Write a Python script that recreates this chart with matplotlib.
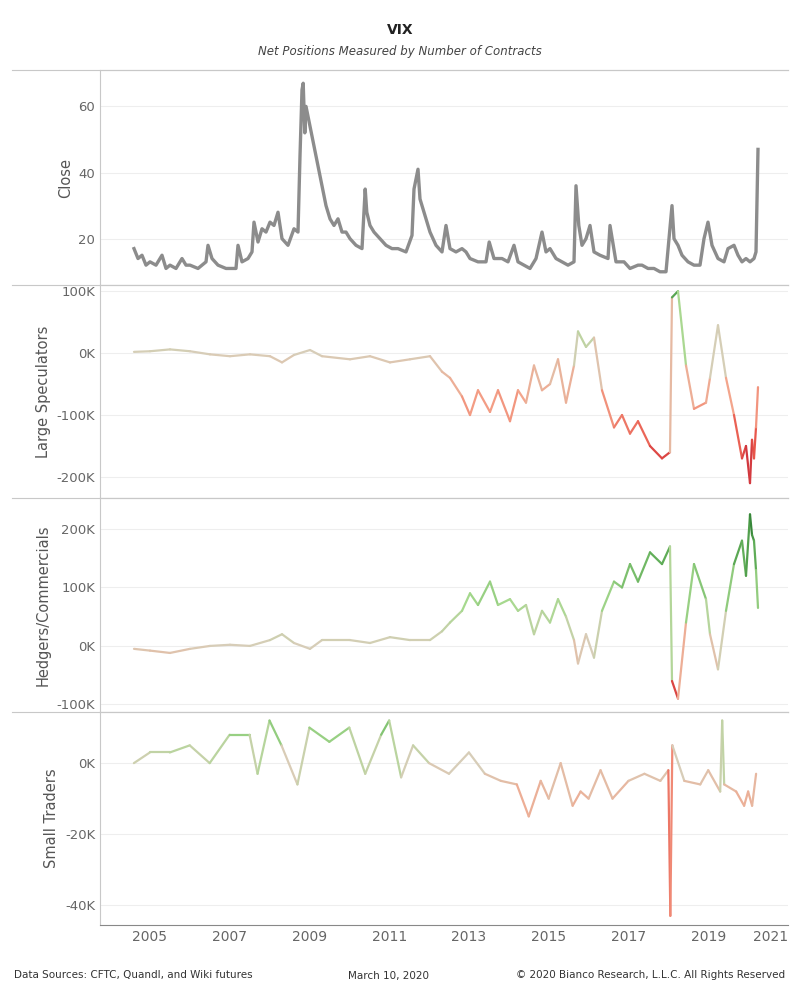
import numpy as np
import matplotlib
matplotlib.use("Agg")
import matplotlib.pyplot as plt
from matplotlib.collections import LineCollection
from matplotlib.colors import LinearSegmentedColormap, TwoSlopeNorm
from matplotlib.ticker import FuncFormatter

close_t = [2004.6, 2004.7, 2004.8, 2004.9, 2005.0, 2005.15, 2005.3, 2005.4, 2005.5, 2005.65, 2005.8, 2005.9, 2006.0, 2006.2,
           2006.4, 2006.45, 2006.55, 2006.7, 2006.9, 2007.0, 2007.15, 2007.2, 2007.3, 2007.45, 2007.55, 2007.6, 2007.7,
           2007.8, 2007.9, 2008.0, 2008.1, 2008.2, 2008.3, 2008.45, 2008.6, 2008.7, 2008.75, 2008.8, 2008.83, 2008.87,
           2008.9, 2009.4, 2009.5, 2009.6, 2009.7, 2009.8, 2009.9, 2010.0, 2010.15, 2010.3, 2010.38, 2010.42, 2010.5,
           2010.6, 2010.75, 2010.9, 2011.05, 2011.2, 2011.4, 2011.55, 2011.6, 2011.7, 2011.75, 2011.85, 2012.0, 2012.15,
           2012.3, 2012.4, 2012.5, 2012.65, 2012.8, 2012.9, 2013.0, 2013.2, 2013.4, 2013.48, 2013.6, 2013.8, 2013.95,
           2014.1, 2014.2, 2014.35, 2014.5, 2014.65, 2014.8, 2014.9, 2015.0, 2015.15, 2015.3, 2015.45, 2015.6, 2015.65,
           2015.72, 2015.8, 2015.9, 2016.0, 2016.1, 2016.25, 2016.45, 2016.5, 2016.65, 2016.85, 2017.0, 2017.2, 2017.3,
           2017.45, 2017.6, 2017.75, 2017.9, 2018.05, 2018.1, 2018.2, 2018.3, 2018.45, 2018.6, 2018.75, 2018.85, 2018.95,
           2019.05, 2019.2, 2019.35, 2019.45, 2019.6, 2019.7, 2019.8, 2019.9, 2020.0, 2020.1, 2020.15, 2020.2]
close_v = [17, 14, 15, 12, 13, 12, 15, 11, 12, 11, 14, 12, 12, 11,
           13, 18, 14, 12, 11, 11, 11, 18, 13, 14, 16, 25, 19,
           23, 22, 25, 24, 28, 20, 18, 23, 22, 45, 65, 67, 52,
           60, 30, 26, 24, 26, 22, 22, 20, 18, 17, 35, 28, 24,
           22, 20, 18, 17, 17, 16, 21, 35, 41, 32, 28, 22, 18,
           16, 24, 17, 16, 17, 16, 14, 13, 13, 19, 14, 14, 13,
           18, 13, 12, 11, 14, 22, 16, 17, 14, 13, 12, 13, 36,
           24, 18, 20, 24, 16, 15, 14, 24, 13, 13, 11, 12, 12,
           11, 11, 10, 10, 30, 20, 18, 15, 13, 12, 12, 20, 25,
           18, 14, 13, 17, 18, 15, 13, 14, 13, 14, 16, 47]

pos_t = [2004.6, 2005.0, 2005.5, 2006.0, 2006.5, 2007.0, 2007.5, 2008.0, 2008.3, 2008.6, 2009.0, 2009.3, 2010.0, 2010.5,
         2011.0, 2011.5, 2012.0, 2012.3, 2012.5, 2012.8, 2013.0, 2013.2, 2013.5, 2013.7, 2014.0, 2014.2, 2014.4, 2014.6,
         2014.8, 2015.0, 2015.2, 2015.4, 2015.6, 2015.7, 2015.9, 2016.1, 2016.3, 2016.6, 2016.8, 2017.0, 2017.2, 2017.5,
         2017.8, 2018.0, 2018.05, 2018.2, 2018.4, 2018.6, 2018.9, 2019.0, 2019.2, 2019.4, 2019.6, 2019.8, 2019.9, 2020.0,
         2020.05, 2020.1, 2020.15, 2020.2]
large_spec = [2, 3, 6, 3, -2, -5, -2, -5, -15, -3, 5, -5, -10, -5,
              -15, -10, -5, -30, -40, -70, -100, -60, -95, -60, -110, -60, -80, -20,
              -60, -50, -10, -80, -20, 35, 10, 25, -60, -120, -100, -130, -110, -150,
              -170, -160, 90, 100, -20, -90, -80, -40, 45, -40, -100, -170, -150, -210,
              -140, -170, -120, -55]
hedgers = [-5, -8, -12, -5, 0, 2, 0, 10, 20, 5, -5, 10, 10, 5,
           15, 10, 10, 25, 40, 60, 90, 70, 110, 70, 80, 60, 70, 20,
           60, 40, 80, 50, 10, -30, 20, -20, 60, 110, 100, 140, 110, 160,
           140, 170, -60, -90, 40, 140, 80, 20, -40, 60, 140, 180, 120, 225,
           190, 180, 130, 65]

small_t = [2004.6, 2005.0, 2005.5, 2006.0, 2006.5, 2007.0, 2007.5, 2007.7, 2008.0, 2008.3, 2008.7, 2009.0, 2009.5, 2010.0,
           2010.4, 2010.8, 2011.0, 2011.3, 2011.6, 2012.0, 2012.5, 2013.0, 2013.4, 2013.8, 2014.2, 2014.5, 2014.8, 2015.0,
           2015.3, 2015.6, 2015.8, 2016.0, 2016.3, 2016.6, 2017.0, 2017.4, 2017.8, 2018.0, 2018.05, 2018.1, 2018.4, 2018.8,
           2019.0, 2019.3, 2019.35, 2019.4, 2019.7, 2019.9, 2020.0, 2020.1, 2020.2]
small = [0, 3, 3, 5, 0, 8, 8, -3, 12, 5, -6, 10, 6, 10,
         -3, 8, 12, -4, 5, 0, -3, 3, -3, -5, -6, -15, -5, -10,
         0, -12, -8, -10, -2, -10, -5, -3, -5, -2, -43, 5, -5, -6,
         -2, -8, 12, -6, -8, -12, -8, -12, -3]

cmap = LinearSegmentedColormap.from_list(
    "rg", ["#b5132f", "#e8554a", "#f4a38a", "#d8cdb8", "#a6d98e", "#63b05a", "#2d7d32"])

fig = plt.figure(figsize=(8, 10), dpi=100)
fig.patch.set_facecolor("white")
left, width = 0.125, 0.86
panels = [(0.715, 0.215), (0.502, 0.213), (0.288, 0.214), (0.075, 0.213)]
axes = [fig.add_axes([left, b, width, h]) for b, h in panels]

kfmt = FuncFormatter(lambda v, p: f"{int(round(v / 1000))}K")


def gradient_line(ax, t, v, vmin, vmax, lw=1.6):
    t = np.asarray(t)
    v = np.asarray(v, dtype=float)
    pts = np.column_stack([t, v]).reshape(-1, 1, 2)
    segs = np.concatenate([pts[:-1], pts[1:]], axis=1)
    lc = LineCollection(segs, cmap=cmap, norm=TwoSlopeNorm(0, vmin, vmax), linewidth=lw, capstyle="round")
    lc.set_array((v[:-1] + v[1:]) / 2)
    ax.add_collection(lc)


lab = dict(color="#555555", fontsize=10.5)
axes[0].plot(close_t, close_v, color="#8c8c8c", lw=2.4)
axes[0].set_ylim(6, 71)
axes[0].set_yticks([20, 40, 60])
axes[0].set_ylabel("Close", **lab)

gradient_line(axes[1], pos_t, np.array(large_spec) * 1000, -220000, 130000)
axes[1].set_ylim(-234000, 110000)
axes[1].set_yticks([100000, 0, -100000, -200000])
axes[1].set_ylabel("Large Speculators", **lab)

gradient_line(axes[2], pos_t, np.array(hedgers) * 1000, -100000, 225000)
axes[2].set_ylim(-113000, 253000)
axes[2].set_yticks([200000, 100000, 0, -100000])
axes[2].set_ylabel("Hedgers/Commercials", **lab)

gradient_line(axes[3], small_t, np.array(small) * 1000, -43000, 20000)
axes[3].set_ylim(-45600, 14400)
axes[3].set_yticks([0, -20000, -40000])
axes[3].set_ylabel("Small Traders", **lab)

for i, ax in enumerate(axes):
    ax.set_xlim(2003.75, 2020.95)
    ax.grid(axis="y", color="#eeeeee", lw=0.8)
    ax.set_axisbelow(True)
    ax.tick_params(axis="y", length=0, labelsize=9.5, colors="#666666")
    ax.tick_params(axis="x", length=0)
    ax.spines["right"].set_visible(False)
    for s in ["left", "bottom", "top"]:
        ax.spines[s].set_color("#c8c8c8")
    if i > 0:
        ax.yaxis.set_major_formatter(kfmt)
    if i < 3:
        ax.set_xticks([])
    else:
        years = list(range(2005, 2022, 2))
        ax.set_xticks(years)
        ax.set_xticklabels([str(y) for y in years], fontsize=10, color="#666666")
        ax.get_xticklabels()[-1].set_horizontalalignment("right")
        ax.spines["bottom"].set_color("#888888")

# full-width panel separators
for b, h in panels[:-1]:
    fig.add_artist(plt.Line2D([0.015, 0.985], [b, b], color="#c8c8c8", lw=0.8))
fig.add_artist(plt.Line2D([0.015, 0.985], [0.93, 0.93], color="#c8c8c8", lw=0.8))

fig.text(0.5, 0.97, "VIX", ha="center", va="center", fontsize=10, fontweight="bold", color="#222222")
fig.text(0.5, 0.948, "Net Positions Measured by Number of Contracts", ha="center", va="center",
         fontsize=8.5, style="italic", color="#444444")
fig.text(0.018, 0.025, "Data Sources: CFTC, Quandl, and Wiki futures", fontsize=7.5, color="#333333", va="center")
fig.text(0.485, 0.024, "March 10, 2020", fontsize=7.5, color="#333333", va="center", ha="center")
fig.text(0.982, 0.025, "© 2020 Bianco Research, L.L.C. All Rights Reserved", fontsize=7.5, color="#333333",
         va="center", ha="right")

fig.savefig("out.png", dpi=100, facecolor="white")
